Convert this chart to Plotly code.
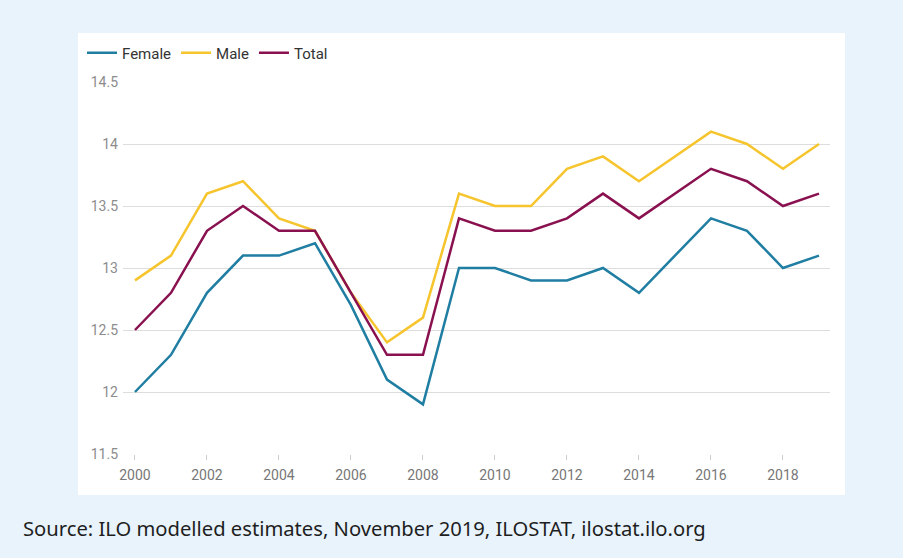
import plotly.graph_objects as go

years = list(range(2000, 2020))
female = [12.0, 12.3, 12.8, 13.1, 13.1, 13.2, 12.7, 12.1, 11.9, 13.0,
          13.0, 12.9, 12.9, 13.0, 12.8, 13.1, 13.4, 13.3, 13.0, 13.1]
male = [12.9, 13.1, 13.6, 13.7, 13.4, 13.3, 12.8, 12.4, 12.6, 13.6,
        13.5, 13.5, 13.8, 13.9, 13.7, 13.9, 14.1, 14.0, 13.8, 14.0]
total = [12.5, 12.8, 13.3, 13.5, 13.3, 13.3, 12.8, 12.3, 12.3, 13.4,
         13.3, 13.3, 13.4, 13.6, 13.4, 13.6, 13.8, 13.7, 13.5, 13.6]
x_ticks = list(range(2000, 2020, 2))
y_ticks = [11.5, 12, 12.5, 13, 13.5, 14, 14.5]

series = [("Female", female, "#1f7ea2"), ("Male", male, "#f6c52e"), ("Total", total, "#8a1150")]

fig = go.Figure()
for name, vals, col in series:
    fig.add_trace(go.Scatter(x=years, y=vals, name=name, mode="lines",
                             line=dict(color=col, width=2.5)))

L, R, T, B = 123, 73, 82, 104
W, H = 903, 558
pw, ph = W - L - R, H - T - B

def px(xp):
    return (xp - L) / pw

def py(yp):
    return (H - B - yp) / ph

fig.add_shape(type="rect", xref="paper", yref="paper",
              x0=px(78), x1=px(845), y0=py(495), y1=py(33),
              fillcolor="white", line=dict(width=0), layer="below")

fig.add_annotation(xref="paper", yref="paper", x=px(21), y=py(528),
                   xanchor="left", yanchor="middle", showarrow=False,
                   text="Source: ILO modelled estimates, November 2019, ILOSTAT, ilostat.ilo.org",
                   font=dict(family="Noto Sans", size=20.2, color="#1e1e1e"))

fig.update_layout(
    width=W, height=H,
    margin=dict(l=L, r=R, t=T, b=B, pad=0),
    paper_bgcolor="#e8f3fc",
    plot_bgcolor="white",
    font=dict(family="Roboto", size=14, color="#7a7a7a"),
    showlegend=True,
    legend=dict(orientation="h", x=px(82), y=py(53), xanchor="left", yanchor="middle",
                font=dict(family="Roboto", size=15, color="#333333"),
                itemwidth=30, bgcolor="rgba(0,0,0,0)", tracegroupgap=0),
    xaxis=dict(range=[1999.667, 2019.306], tickvals=x_ticks, ticks="outside",
               ticklen=5, tickcolor="#cccccc", showgrid=False, zeroline=False,
               showline=False, tickfont=dict(size=14, color="#777777"),
               ticklabelstandoff=3),
    yaxis=dict(range=[11.5, 14.5], tickvals=y_ticks, showgrid=True,
               gridcolor="#dddddd", gridwidth=1, zeroline=False, showline=False,
               tickfont=dict(size=14, color="#8c8c8c"), ticklabelstandoff=4),
)

fig.write_html("out.html", config={"displayModeBar": False},
               post_script="document.body.style.margin='0';document.body.style.padding='0';")
